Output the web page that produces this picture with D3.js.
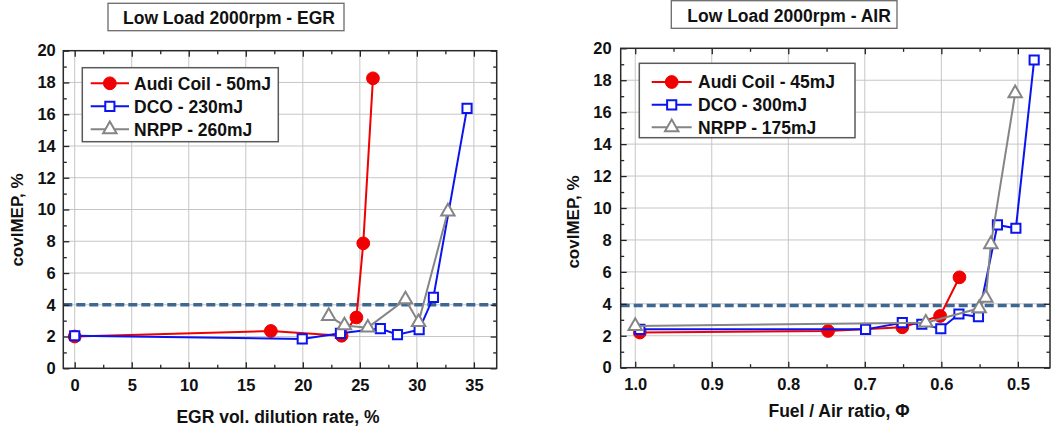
<!DOCTYPE html>
<html>
<head>
<meta charset="utf-8">
<script src="https://cdn.jsdelivr.net/npm/d3@7"></script>
<style>
  html, body { margin: 0; padding: 0; background: #fff; }
  svg { display: block; font-family: "Liberation Sans", Arial, sans-serif; font-weight: bold; }
</style>
</head>
<body>
<svg id="chart" width="1056" height="429"></svg>
<script>
// ---- EGR dilution sweep (left) ----
const egrTitle = "Low Load 2000rpm - EGR";
const egrXLabel = "EGR vol. dilution rate, %";
const egrNames = ["Audi Coil - 50mJ", "DCO - 230mJ", "NRPP - 260mJ"];
const egrAudiX = [0, 17.2, 23.4, 24.7, 25.3, 26.15];
const egrAudiY = [2.0, 2.35, 2.05, 3.2, 7.87, 18.26];
const egrDcoX = [0, 19.95, 23.3, 26.8, 28.3, 30.2, 31.45, 34.4];
const egrDcoY = [2.05, 1.85, 2.2, 2.5, 2.12, 2.43, 4.47, 16.37];
const egrNrppX = [22.27, 23.65, 25.7, 29.0, 30.15, 32.72];
const egrNrppY = [3.29, 2.7, 2.56, 4.34, 2.9, 9.87];
const egrXTicks = [0, 5, 10, 15, 20, 25, 30, 35];
const egrXMinor = [2.5, 7.5, 12.5, 17.5, 22.5, 27.5, 32.5];
const egrLimit = 4;

// ---- Lean (air dilution) sweep (right) ----
const airTitle = "Low Load 2000rpm - AIR";
const airXLabel = "Fuel / Air ratio, \u03A6";
const airNames = ["Audi Coil - 45mJ", "DCO - 300mJ", "NRPP - 175mJ"];
const airAudiX = [0.994, 0.748, 0.651, 0.6016, 0.5763];
const airAudiY = [2.2, 2.3, 2.53, 3.24, 5.66];
const airDcoX = [0.994, 0.699, 0.651, 0.6255, 0.6007, 0.577, 0.5515, 0.5267, 0.5026, 0.4787];
const airDcoY = [2.4, 2.4, 2.82, 2.72, 2.44, 3.36, 3.19, 8.94, 8.73, 19.27];
const airNrppX = [1.0, 0.6203, 0.5506, 0.5419, 0.5353, 0.5035];
const airNrppY = [2.61, 2.82, 3.72, 4.38, 7.73, 17.18];
const airXTicks = [1.0, 0.9, 0.8, 0.7, 0.6, 0.5];
const airXMinor = [0.95, 0.85, 0.75, 0.65, 0.55];
const airLimit = 3.9;

// ---- shared y axis ----
const yLabel = "covIMEP, %";
const yTicks = [0, 2, 4, 6, 8, 10, 12, 14, 16, 18, 20];
const yMinor = [1, 3, 5, 7, 9, 11, 13, 15, 17, 19];

const zip = (xs, ys) => xs.map((v, i) => [v, ys[i]]);

const seriesStyle = [
  { color: "#f00000", marker: "circle" },
  { color: "#0a14f0", marker: "square" },
  { color: "#858585", marker: "triangle" }
];

const svg = d3.select("#chart");

function markerPath(type) {
  if (type === "circle") return d3.symbol(d3.symbolCircle, 128)();
  if (type === "square") return d3.symbol(d3.symbolSquare, 84)();
  return d3.symbol(d3.symbolTriangle, 78)();
}

function styleMarker(sel, st) {
  if (st.marker === "circle") {
    sel.attr("fill", st.color).attr("stroke", st.color).attr("stroke-width", 1);
  } else {
    sel.attr("fill", "#fff").attr("stroke", st.color).attr("stroke-width", 2);
  }
}

function drawPanel(cfg) {
  const g = svg.append("g");
  const x = d3.scaleLinear().domain(cfg.xDomain).range([cfg.left, cfg.right]);
  const y = d3.scaleLinear().domain([0, 20]).range([cfg.bottom, cfg.top]);

  // grid
  g.append("g").selectAll("line").data(cfg.xTicks).join("line")
    .attr("x1", d => x(d)).attr("x2", d => x(d))
    .attr("y1", cfg.top).attr("y2", cfg.bottom)
    .attr("stroke", "#c6c6c6").attr("stroke-width", 1);
  g.append("g").selectAll("line").data(yTicks.slice(1, -1)).join("line")
    .attr("y1", d => y(d)).attr("y2", d => y(d))
    .attr("x1", cfg.left).attr("x2", cfg.right)
    .attr("stroke", "#c6c6c6").attr("stroke-width", 1);

  // COV limit
  g.append("line")
    .attr("x1", cfg.left).attr("x2", cfg.right)
    .attr("y1", y(cfg.limit)).attr("y2", y(cfg.limit))
    .attr("stroke", "#3e6792").attr("stroke-width", 3.5)
    .attr("stroke-dasharray", "9,4");

  // series
  const line = d3.line().x(d => x(d[0])).y(d => y(d[1]));
  cfg.series.forEach((pts, i) => {
    const st = seriesStyle[i];
    g.append("path").datum(pts).attr("d", line)
      .attr("fill", "none").attr("stroke", st.color).attr("stroke-width", 2);
    const m = g.append("g").selectAll("path").data(pts).join("path")
      .attr("d", markerPath(st.marker))
      .attr("transform", d => `translate(${x(d[0])},${y(d[1])})`);
    styleMarker(m, st);
  });

  // axes (ticks pointing inward on all four sides)
  const axisStyle = sel => {
    sel.select(".domain").remove();
    sel.selectAll(".tick line").attr("stroke", "#222").attr("stroke-width", 1.3);
    sel.selectAll("text").attr("fill", "#111").attr("font-size", 16.5)
      .attr("font-family", '"Liberation Sans", Arial, sans-serif').attr("font-weight", "bold");
  };
  const bottom = g.append("g").attr("transform", `translate(0,${cfg.bottom})`)
    .call(d3.axisBottom(x).tickValues(cfg.xTicks).tickSize(-6).tickPadding(10.5).tickFormat(cfg.xFormat));
  axisStyle(bottom);
  g.append("g").attr("transform", `translate(0,${cfg.bottom})`)
    .call(d3.axisBottom(x).tickValues(cfg.xMinor).tickSize(-3.5).tickFormat("")).call(axisStyle);
  g.append("g").attr("transform", `translate(0,${cfg.top})`)
    .call(d3.axisTop(x).tickValues(cfg.xTicks).tickSize(-6).tickFormat("")).call(axisStyle);
  g.append("g").attr("transform", `translate(0,${cfg.top})`)
    .call(d3.axisTop(x).tickValues(cfg.xMinor).tickSize(-3.5).tickFormat("")).call(axisStyle);
  const left = g.append("g").attr("transform", `translate(${cfg.left},0)`)
    .call(d3.axisLeft(y).tickValues(yTicks).tickSize(-6).tickPadding(cfg.yPad));
  axisStyle(left);
  g.append("g").attr("transform", `translate(${cfg.left},0)`)
    .call(d3.axisLeft(y).tickValues(yMinor).tickSize(-3.5).tickFormat("")).call(axisStyle);
  g.append("g").attr("transform", `translate(${cfg.right},0)`)
    .call(d3.axisRight(y).tickValues(yTicks).tickSize(-6).tickFormat("")).call(axisStyle);
  g.append("g").attr("transform", `translate(${cfg.right},0)`)
    .call(d3.axisRight(y).tickValues(yMinor).tickSize(-3.5).tickFormat("")).call(axisStyle);

  // frame
  g.append("rect")
    .attr("x", cfg.left).attr("y", cfg.top)
    .attr("width", cfg.right - cfg.left).attr("height", cfg.bottom - cfg.top)
    .attr("fill", "none").attr("stroke", "#2a2a2a").attr("stroke-width", 1.5);

  // legend
  const L = cfg.legend;
  g.append("rect").attr("x", L.x0).attr("y", L.y0)
    .attr("width", L.x1 - L.x0).attr("height", L.y1 - L.y0)
    .attr("fill", "#fff").attr("stroke", "#5a5a5a").attr("stroke-width", 1.5);
  cfg.names.forEach((name, i) => {
    const st = seriesStyle[i];
    const ry = L.rows[i];
    g.append("line").attr("x1", L.lx0).attr("x2", L.lx1).attr("y1", ry).attr("y2", ry)
      .attr("stroke", st.color).attr("stroke-width", 2);
    const m = g.append("path").attr("d", markerPath(st.marker))
      .attr("transform", `translate(${(L.lx0 + L.lx1) / 2},${ry})`);
    styleMarker(m, st);
    g.append("text").attr("x", L.tx).attr("y", ry + 6.3)
      .attr("font-size", 17.5).attr("fill", "#111").text(name);
  });

  // title box
  const T = cfg.titleBox;
  g.append("rect").attr("x", T.x0).attr("y", T.y0)
    .attr("width", T.x1 - T.x0).attr("height", T.y1 - T.y0)
    .attr("fill", "#fff").attr("stroke", "#6a6a6a").attr("stroke-width", 1.3);
  g.append("text").attr("x", T.tx).attr("y", T.ty)
    .attr("font-size", 17.5).attr("fill", "#111").text(cfg.title);

  // axis titles
  g.append("text").attr("x", cfg.xLabelPos[0]).attr("y", cfg.xLabelPos[1])
    .attr("text-anchor", "middle").attr("font-size", 17.5).attr("fill", "#111").text(cfg.xLabel);
  g.append("text")
    .attr("transform", `translate(${cfg.yLabelPos[0]},${cfg.yLabelPos[1]}) rotate(-90)`)
    .attr("text-anchor", "middle").attr("font-size", 17).attr("fill", "#111").text(yLabel);
}

drawPanel({
  left: 63.3, right: 496.7, top: 50.7, bottom: 368.3,
  xDomain: [-1, 37],
  xTicks: egrXTicks, xMinor: egrXMinor, xFormat: d3.format("d"),
  yPad: 7.5,
  limit: egrLimit,
  series: [zip(egrAudiX, egrAudiY), zip(egrDcoX, egrDcoY), zip(egrNrppX, egrNrppY)],
  names: egrNames,
  legend: { x0: 82.3, x1: 278.3, y0: 67.7, y1: 141.7, rows: [83.3, 106.3, 129.3], lx0: 90.7, lx1: 129, tx: 134 },
  title: egrTitle,
  titleBox: { x0: 108, x1: 344, y0: 3.3, y1: 30.7, tx: 123, ty: 24.3 },
  xLabel: egrXLabel, xLabelPos: [278, 423],
  yLabelPos: [23, 220]
});

drawPanel({
  left: 620.7, right: 1050, top: 48.3, bottom: 367.7,
  xDomain: [1.019, 0.458],
  xTicks: airXTicks, xMinor: airXMinor, xFormat: d3.format(".1f"),
  yPad: 9,
  limit: airLimit,
  series: [zip(airAudiX, airAudiY), zip(airDcoX, airDcoY), zip(airNrppX, airNrppY)],
  names: airNames,
  legend: { x0: 639.3, x1: 855, y0: 63.3, y1: 137.7, rows: [82, 104.8, 127.3], lx0: 651.7, lx1: 691.7, tx: 698 },
  title: airTitle,
  titleBox: { x0: 671.3, x1: 897, y0: 0.7, y1: 28.3, tx: 687.3, ty: 21.7 },
  xLabel: airXLabel, xLabelPos: [839, 417],
  yLabelPos: [579, 222]
});
</script>
</body>
</html>
